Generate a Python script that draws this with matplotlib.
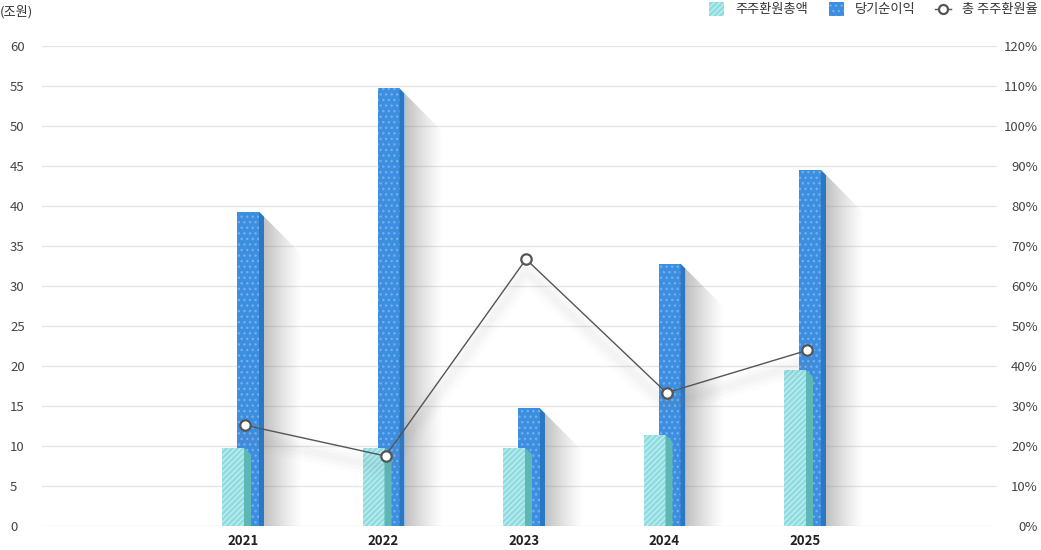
import numpy as np
import matplotlib
matplotlib.use("Agg")
import matplotlib.pyplot as plt
import matplotlib.transforms as mtransforms
from matplotlib.patches import Polygon, Rectangle
from matplotlib.lines import Line2D

plt.rcParams["font.family"] = ["Noto Sans CJK KR", "DejaVu Sans"]
plt.rcParams["hatch.linewidth"] = 1.0

years = ["2021", "2022", "2023", "2024", "2025"]
payout_total = [9.8, 9.8, 9.8, 11.4, 19.5]      # 주주환원총액 (조원)
net_income = [39.3, 54.7, 14.7, 32.8, 44.5]     # 당기순이익 (조원)
payout_ratio = [25.2, 17.5, 66.7, 33.3, 43.9]   # 총 주주환원율 (%)

W, H = 1041, 550
fig = plt.figure(figsize=(W / 100, H / 100), dpi=100)
ax = fig.add_axes([42 / W, 24 / H, (997 - 42) / W, (526 - 46) / H])

x = np.arange(len(years))
PX = 140.5   # pixels per category
PY = 8.0     # pixels per unit on left axis


def dx(p):
    return p / PX


def dy(p):
    return p / PY


G_FRONT, G_HATCH, G_SIDE = "#8fdbe0", "#bdeef0", "#5db7b5"
B_FRONT, B_DOT, B_SIDE = "#3c8ee0", "#74afea", "#2a77c4"

# shadows behind the tall bars
grad = np.zeros((1, 64, 4))
grad[..., :3] = 0.5
grad[..., 3] = np.linspace(0.55, 0.0, 64) ** 1.2
for xi, v in zip(x, net_income):
    x0 = xi + dx(21)
    sw = dx(38)
    top = v - dy(5)
    poly = Polygon([(x0, 0), (x0, top), (x0 + sw, top - dy(38)), (x0 + sw, 0)],
                   closed=True, facecolor="none", edgecolor="none",
                   transform=ax.transData)
    ax.add_patch(poly)
    im = ax.imshow(grad, extent=[x0, x0 + sw, 0, top], aspect="auto",
                   interpolation="bilinear", zorder=1)
    im.set_clip_path(poly)

# blue bars (front + side)
ax.bar(x + dx(-6), net_income, width=dx(22), align="edge", color=B_FRONT,
       edgecolor=B_DOT, hatch="...", linewidth=0, zorder=2)
for xi, v in zip(x, net_income):
    xl, xr = xi + dx(16), xi + dx(21)
    ax.add_patch(Polygon([(xl, 0), (xl, v), (xr, v - dy(5)), (xr, 0)],
                         closed=True, facecolor=B_SIDE, linewidth=0, zorder=2))

# green bars (front + side)
ax.bar(x + dx(-21), payout_total, width=dx(22), align="edge", color=G_FRONT,
       edgecolor=G_HATCH, hatch="//////", linewidth=0, zorder=3)
for xi, v in zip(x, payout_total):
    xl, xr = xi + dx(1), xi + dx(8)
    ax.add_patch(Polygon([(xl, 0), (xl, v), (xr, v - dy(7)), (xr, 0)],
                         closed=True, facecolor=G_SIDE, linewidth=0, zorder=3))

ax.set_xlim((42 - 243) / PX, (997 - 243) / PX)
ax.set_ylim(0, 60)
ax.set_yticks(np.arange(0, 61, 5))
ax.yaxis.grid(True, color="#e6e6e6", linewidth=1)
ax.set_axisbelow(True)
ax.set_xticks(x)
ax.set_xticklabels(years, fontsize=9.5, fontweight="bold", color="#222")
ax.tick_params(axis="x", length=0, pad=6)
ax.tick_params(axis="y", length=0, pad=23, labelsize=9.5, labelcolor="#444")
for lbl in ax.get_yticklabels():
    lbl.set_ha("left")
for s in ax.spines.values():
    s.set_visible(False)

# right axis: payout ratio line
ax2 = ax.twinx()
ax2.set_ylim(0, 120)
ax2.set_yticks(np.arange(0, 121, 10))
ax2.set_yticklabels([f"{v}%" for v in range(0, 121, 10)])
ax2.tick_params(axis="y", length=0, pad=29.5, labelsize=9.5, labelcolor="#444")
for lbl in ax2.get_yticklabels():
    lbl.set_ha("right")
for s in ax2.spines.values():
    s.set_visible(False)

shadow_tr = mtransforms.offset_copy(ax2.transData, fig=fig, x=0, y=-12, units="dots")
for lw, a in [(16, 0.025), (10, 0.03), (5, 0.035)]:
    ax2.plot(x + dx(2), payout_ratio, color="#888", lw=lw, alpha=a,
             solid_capstyle="round", transform=shadow_tr, zorder=1)
ax2.plot(x + dx(2), payout_ratio, color="#555", lw=1, marker="o", ms=7.5,
         mfc="white", mec="#555", mew=1.6, zorder=5)


def fx(p):
    return p / W


def fy(p):
    return 1 - p / H


fig.text(fx(0), fy(12), "(조원)", fontsize=9.5, color="#333", va="center", ha="left")

# legend
fig.add_artist(Rectangle((fx(709), fy(16)), 15 / W, 14 / H, transform=fig.transFigure,
                         facecolor=G_FRONT, edgecolor=G_HATCH, hatch="//////", linewidth=0))
fig.text(fx(735), fy(9), "주주환원총액", fontsize=9.5, color="#333", va="center", ha="left")
fig.add_artist(Rectangle((fx(829), fy(16)), 15 / W, 14 / H, transform=fig.transFigure,
                         facecolor=B_FRONT, edgecolor=B_DOT, hatch="...", linewidth=0))
fig.text(fx(855), fy(9), "당기순이익", fontsize=9.5, color="#333", va="center", ha="left")
fig.add_artist(Line2D([fx(935), fx(951)], [fy(9), fy(9)], transform=fig.transFigure,
                      color="#555", lw=1))
fig.add_artist(Line2D([fx(943)], [fy(9)], transform=fig.transFigure, marker="o", ms=6.5,
                      mfc="white", mec="#555", mew=1.6, linestyle="none"))
fig.text(fx(962), fy(9), "총 주주환원율", fontsize=9.5, color="#333", va="center", ha="left")

fig.savefig("out.png", dpi=100)
